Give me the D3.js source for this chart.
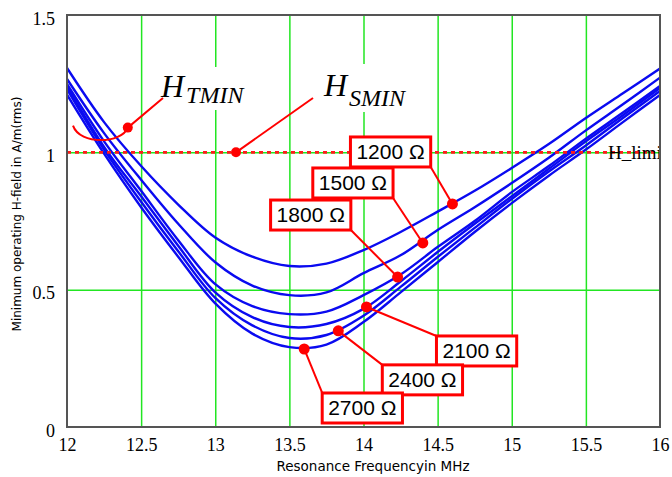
<!DOCTYPE html>
<html lang="en">
  <head>
    <meta charset="UTF-8" />
    <title>Minimum operating H-field</title>
    <script src="https://d3js.org/d3.v7.min.js"></script>
    <style>
      body { margin: 0; background: #fff; }
      .tick text { font-family: 'Liberation Serif', 'Times New Roman', serif; font-size: 18px; fill: #000; }
      .grid line { stroke: #22e622; stroke-width: 1.5; }
      .grid .domain { display: none; }
    </style>
  </head>
  <body>
    <div id="chart"></div>
    <script>
      // frequencies (MHz) at which the curves were read
      const freqs = [12, 12.25, 12.5, 12.75, 13, 13.25, 13.5, 13.75, 14, 14.25, 14.5, 14.75, 15, 15.25, 15.5, 15.75, 16];

      const h1200 = [1.307, 1.11, 0.95, 0.81, 0.69, 0.62, 0.586, 0.595, 0.644, 0.71, 0.784, 0.86, 0.943, 1.03, 1.125, 1.215, 1.305];
      const h1500 = [1.267, 1.07, 0.9, 0.74, 0.6, 0.515, 0.48, 0.49, 0.56, 0.625, 0.717, 0.8, 0.888, 0.98, 1.08, 1.175, 1.272];
      const h1800 = [1.249, 1.04, 0.86, 0.68, 0.52, 0.44, 0.411, 0.42, 0.48, 0.555, 0.655, 0.75, 0.855, 0.95, 1.05, 1.145, 1.242];
      const h2100 = [1.24, 1.02, 0.84, 0.66, 0.49, 0.4, 0.364, 0.375, 0.43, 0.53, 0.637, 0.74, 0.84, 0.94, 1.04, 1.135, 1.234];
      const h2400 = [1.23, 1.01, 0.82, 0.64, 0.47, 0.37, 0.324, 0.335, 0.405, 0.51, 0.619, 0.725, 0.83, 0.93, 1.025, 1.125, 1.223];
      const h2700 = [1.21, 0.995, 0.8, 0.62, 0.45, 0.34, 0.291, 0.3, 0.382, 0.49, 0.6, 0.71, 0.815, 0.915, 1.01, 1.11, 1.209];

      const series = [h1200, h1500, h1800, h2100, h2400, h2700];
      const resLabels = ['1200 Ω', '1500 Ω', '1800 Ω', '2100 Ω', '2400 Ω', '2700 Ω'];
      // where each label points on its curve
      const markFreq = [14.6, 14.4, 14.23, 14.02, 13.83, 13.6];
      const markH = [0.812, 0.67, 0.546, 0.437, 0.35, 0.284];

      const hLimit = 1;
      const hTminPoint = [12.41, 1.09];
      const hSminPoint = [13.14, 1.0];

      const xTicks = [12, 12.5, 13, 13.5, 14, 14.5, 15, 15.5, 16];
      const yTicks = [0, 0.5, 1, 1.5];

      const W = 672, H = 477;
      const plot = { left: 67, right: 660, top: 15, bottom: 427 };

      const svg = d3.select('#chart').append('svg').attr('width', W).attr('height', H);

      const x = d3.scaleLinear().domain([12, 16]).range([plot.left, plot.right]);
      const y = d3.scaleLinear().domain([0, 1.5]).range([plot.bottom, plot.top]);

      svg.append('clipPath').attr('id', 'clip')
        .append('rect')
        .attr('x', plot.left).attr('y', plot.top)
        .attr('width', plot.right - plot.left).attr('height', plot.bottom - plot.top);

      // grid
      svg.append('g').attr('class', 'grid')
        .attr('transform', 'translate(0,' + plot.bottom + ')')
        .call(d3.axisBottom(x).tickValues(xTicks.slice(1, -1)).tickSize(-(plot.bottom - plot.top)).tickFormat(''));
      svg.append('g').attr('class', 'grid')
        .attr('transform', 'translate(' + plot.left + ',0)')
        .call(d3.axisLeft(y).tickValues(yTicks.slice(1, -1)).tickSize(-(plot.right - plot.left)).tickFormat(''));

      // axes (labels only, frame drawn separately)
      const xAxis = svg.append('g')
        .attr('transform', 'translate(0,' + plot.bottom + ')')
        .call(d3.axisBottom(x).tickValues(xTicks).tickSize(0).tickPadding(11).tickFormat((d) => String(d)));
      xAxis.select('.domain').remove();

      const yAxis = svg.append('g')
        .attr('transform', 'translate(' + plot.left + ',0)')
        .call(d3.axisLeft(y).tickValues(yTicks).tickSize(0).tickPadding(12).tickFormat((d) => String(d)));
      yAxis.select('.domain').remove();
      yAxis.selectAll('text').attr('dy', '0.5em');

      // white patches behind the H labels (they hide the grid)
      svg.append('rect').attr('x', 158).attr('y', 67).attr('width', 94).attr('height', 43).attr('fill', '#fff');
      svg.append('rect').attr('x', 321).attr('y', 64).attr('width', 89).attr('height', 48).attr('fill', '#fff');

      // curves
      const line = d3.line()
        .x((d, i) => x(freqs[i]))
        .y((d) => y(d))
        .curve(d3.curveCatmullRom.alpha(0.5));

      svg.append('g').attr('clip-path', 'url(#clip)')
        .selectAll('path')
        .data(series)
        .join('path')
        .attr('d', line)
        .attr('fill', 'none')
        .attr('stroke', '#0a0af0')
        .attr('stroke-width', 2.4);

      // H_limit line
      svg.append('line')
        .attr('x1', plot.left).attr('x2', plot.right)
        .attr('y1', y(hLimit)).attr('y2', y(hLimit))
        .attr('stroke', '#ff1a1a').attr('stroke-width', 2.6)
        .attr('stroke-dasharray', '4,4');

      svg.append('g').attr('clip-path', 'url(#clip)')
        .append('text')
        .attr('x', 608).attr('y', y(hLimit) + 7)
        .attr('font-family', "'Liberation Serif', serif")
        .attr('font-size', 19)
        .text('H_limit');

      // frame
      svg.append('rect')
        .attr('x', plot.left).attr('y', plot.top)
        .attr('width', plot.right - plot.left).attr('height', plot.bottom - plot.top)
        .attr('fill', 'none').attr('stroke', '#555').attr('stroke-width', 2);

      // axis titles
      svg.append('text')
        .attr('x', 373).attr('y', 471)
        .attr('text-anchor', 'middle')
        .attr('font-family', "'DejaVu Sans', sans-serif")
        .attr('font-size', 13.5)
        .text('Resonance Frequencyin MHz');

      svg.append('text')
        .attr('transform', 'translate(21,214) rotate(-90)')
        .attr('text-anchor', 'middle')
        .attr('font-family', "'DejaVu Sans', sans-serif")
        .attr('font-size', 12)
        .text('Minimum operating H-field in A/m(rms)');

      // H_TMIN / H_SMIN annotations
      const red = '#ff0000';
      const ann = svg.append('g');
      const tminX = x(hTminPoint[0]), tminY = y(hTminPoint[1]);
      ann.append('path')
        .attr('d', 'M163,98 L' + tminX + ',' + tminY + ' C' + (tminX - 6) + ',' + (tminY + 16) + ' 80,' + (tminY + 18) + ' 73,' + (tminY - 2))
        .attr('fill', 'none').attr('stroke', red).attr('stroke-width', 2);
      ann.append('circle').attr('cx', tminX).attr('cy', tminY).attr('r', 5).attr('fill', red);

      const sminX = x(hSminPoint[0]), sminY = y(hSminPoint[1]);
      ann.append('line')
        .attr('x1', 313).attr('y1', 98).attr('x2', sminX).attr('y2', sminY)
        .attr('stroke', red).attr('stroke-width', 2);
      ann.append('circle').attr('cx', sminX).attr('cy', sminY).attr('r', 5).attr('fill', red);

      function hLabel(px, py, sub, subDy) {
        const t = svg.append('text')
          .attr('x', px).attr('y', py)
          .attr('font-family', "'Liberation Serif', 'Times New Roman', serif")
          .attr('font-style', 'italic');
        t.append('tspan').attr('font-size', 32).text('H');
        t.append('tspan').attr('font-size', 24).attr('dx', 2).attr('dy', subDy).text(sub);
      }
      hLabel(161, 97, 'TMIN', 6);
      hLabel(324, 96, 'SMIN', 10);

      // resistor labels: box offset from the marked point, and which corner the leader hits
      const boxLayout = [
        { dx: -102, dy: -67, corner: 'br' },
        { dx: -110, dy: -75, corner: 'br' },
        { dx: -127, dy: -77, corner: 'br' },
        { dx: 70, dy: 29, corner: 'tl' },
        { dx: 44, dy: 34, corner: 'tl' },
        { dx: 18, dy: 44, corner: 'tl' },
      ];

      const labels = svg.append('g');
      resLabels.forEach((lab, i) => {
        const px = x(markFreq[i]), py = y(markH[i]);
        const bx = px + boxLayout[i].dx, by = py + boxLayout[i].dy;
        const g = labels.append('g');
        const rect = g.append('rect');
        const txt = g.append('text')
          .attr('x', bx + 6).attr('y', by + 22)
          .attr('font-family', "'Liberation Sans', Arial, sans-serif")
          .attr('font-size', 21)
          .text(lab);
        const bw = txt.node().getComputedTextLength() + 12, bh = 30;
        rect.attr('x', bx).attr('y', by).attr('width', bw).attr('height', bh)
          .attr('fill', '#fff').attr('stroke', red).attr('stroke-width', 3);
        const cx = boxLayout[i].corner === 'br' ? bx + bw : bx;
        const cy = boxLayout[i].corner === 'br' ? by + bh : by;
        labels.append('line')
          .attr('x1', cx).attr('y1', cy).attr('x2', px).attr('y2', py)
          .attr('stroke', red).attr('stroke-width', 2);
        labels.append('circle').attr('cx', px).attr('cy', py).attr('r', 5.5).attr('fill', red);
      });
    </script>
  </body>
</html>
